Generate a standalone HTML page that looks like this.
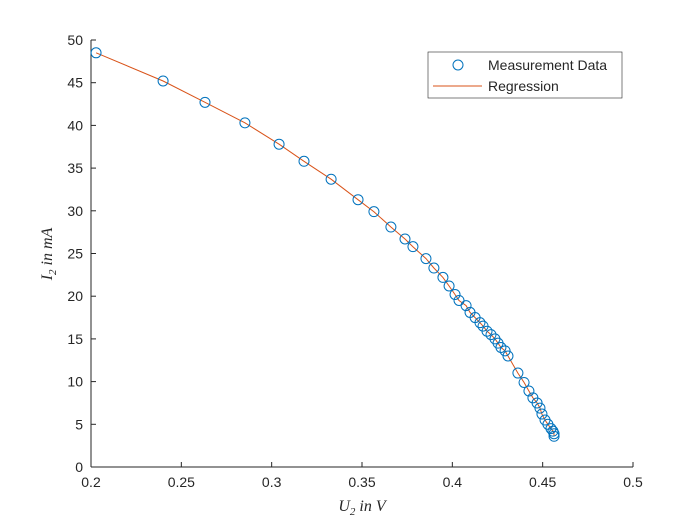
<!DOCTYPE html>
<html><head><meta charset="utf-8"><style>
body{margin:0;background:#fff}
svg text{font-family:"Liberation Sans",sans-serif;font-size:14px;fill:#262626}
.it{font-family:"Liberation Serif",serif;font-style:italic;font-size:16px}
</style></head><body>
<svg id="chart" width="700" height="525">
<rect width="700" height="525" fill="#fff"/>
<g id="axes"></g>
<g id="marks"></g>
<text class="it" x="362" y="511" text-anchor="middle">U<tspan font-size="11" dy="4">2</tspan><tspan dy="-4"> in V</tspan></text>
<text class="it" transform="translate(52,254) rotate(-90)" text-anchor="middle">I<tspan font-size="11" dy="4">2</tspan><tspan dy="-4"> in mA</tspan></text>
<g>
<rect x="428" y="52" width="194" height="46" fill="#fff" stroke="#262626" stroke-width="0.6"/>
<circle cx="458" cy="65" r="5" fill="none" stroke="#0072bd"/>
<text x="488" y="70">Measurement Data</text>
<line x1="433" y1="86" x2="482" y2="86" stroke="#d95319"/>
<text x="488" y="91">Regression</text>
</g>
</svg>
<script>
const xVals=[0.2028,0.2399,0.2631,0.2852,0.3041,0.3179,0.3329,0.3478,0.3566,0.3660,0.3738,0.3782,0.3854,0.3898,0.3948,0.3982,0.4015,0.4037,0.4076,0.4098,0.4126,0.4153,0.4170,0.4192,0.4214,0.4236,0.4253,0.4269,0.4292,0.4308,0.4363,0.4397,0.4424,0.4446,0.4469,0.4485,0.4496,0.4513,0.4529,0.4546,0.4557,0.4563,0.4563];
const yVals=[48.5,45.2,42.7,40.3,37.8,35.8,33.7,31.3,29.9,28.1,26.7,25.8,24.4,23.3,22.2,21.2,20.2,19.5,18.9,18.1,17.5,16.9,16.5,15.9,15.5,15.0,14.5,14.0,13.6,13.0,11.0,9.9,8.9,8.1,7.5,6.9,6.2,5.5,5.0,4.5,4.2,3.9,3.6];
const xTicks=[0.2,0.25,0.3,0.35,0.4,0.45,0.5];
const yTicks=[0,5,10,15,20,25,30,35,40,45,50];
const L=91,R=633,T=40,B=467;
const sx=v=>L+(v-0.2)/0.3*(R-L);
const sy=v=>B-v/50*(B-T);
const NS="http://www.w3.org/2000/svg";
function mk(tag,attrs,parent,txt){const e=document.createElementNS(NS,tag);for(const k in attrs)e.setAttribute(k,attrs[k]);if(txt!==undefined)e.textContent=txt;parent.appendChild(e);return e;}
const ax=document.getElementById('axes'),mg=document.getElementById('marks');
let e=mk('line',{x1:L,y1:B,x2:R,y2:B,stroke:'#262626'},ax);


e=mk('line',{x1:L,y1:B,x2:L,y2:T,stroke:'#262626'},ax);


xTicks.forEach(t=>{const x=sx(t);mk('line',{x1:x,y1:B,x2:x,y2:B-5,stroke:'#262626'},ax);
const tx=mk('text',{x:x,y:B+20,'text-anchor':'middle'},ax,String(t));

});
yTicks.forEach(t=>{const y=sy(t);mk('line',{x1:L,y1:y,x2:L+5,y2:y,stroke:'#262626'},ax);
const tx=mk('text',{x:L-8,y:y+5,'text-anchor':'end'},ax,String(t));

});
const pts=xVals.map((v,i)=>sx(v).toFixed(1)+','+sy(yVals[i]).toFixed(1)).join(' ');
const pl=mk('polyline',{points:pts,fill:'none',stroke:'#d95319','stroke-width':1},mg);


xVals.forEach((v,i)=>{const c=mk('circle',{cx:sx(v),cy:sy(yVals[i]),r:5,fill:'none',stroke:'#0072bd','stroke-width':1},mg);

});
</script>
</body></html>
